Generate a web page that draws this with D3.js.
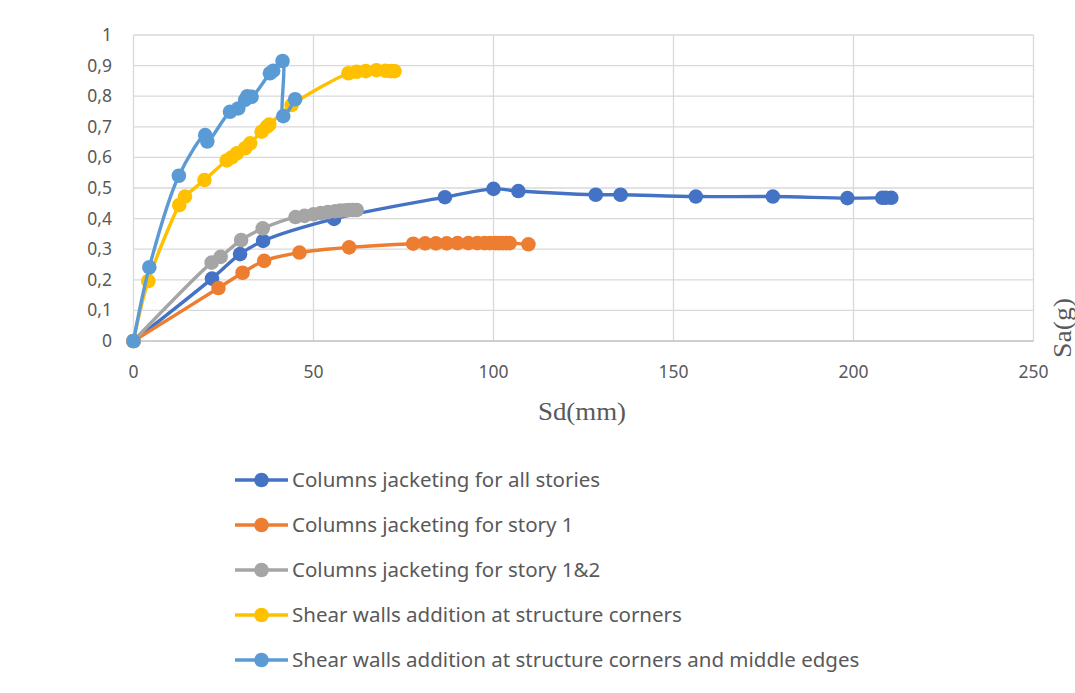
<!DOCTYPE html>
<html><head><meta charset="utf-8">
<script src="https://cdn.jsdelivr.net/npm/d3@7"></script>
<style>body{margin:0;background:#fff;} svg{display:block;}</style>
</head><body>
<svg id="c" width="1075" height="693"></svg>
<script>
const seriesNames = [
  "Columns jacketing for all stories",
  "Columns jacketing for story 1",
  "Columns jacketing for story 1&2",
  "Shear walls addition at structure corners",
  "Shear walls addition at structure corners and middle edges"
];
const seriesColors = ["#4472C4","#ED7D31","#A5A5A5","#FFC000","#5B9BD5"];

const allStoriesSd = [0,21.8,29.6,36,55.7,86.5,100,106.9,128.4,135.3,156.2,177.6,198.3,208,209,210.5];
const allStoriesSa = [0,0.204,0.284,0.327,0.399,0.47,0.497,0.49,0.478,0.478,0.472,0.472,0.467,0.468,0.468,0.468];

const story1Sd = [0,23.6,30.3,36.3,46.1,59.9,77.7,81,84,87,90,93,95.5,97.5,99,100.5,101.5,102.5,103.5,104.5,109.7];
const story1Sa = [0,0.173,0.223,0.262,0.289,0.306,0.318,0.319,0.319,0.319,0.32,0.32,0.32,0.32,0.32,0.32,0.32,0.32,0.32,0.32,0.316];

const story12Sd = [0,21.7,24.2,29.9,35.9,45,47.5,50,52,54,56,57.5,59,60,61,62];
const story12Sa = [0,0.256,0.275,0.33,0.368,0.405,0.409,0.414,0.418,0.421,0.424,0.426,0.427,0.428,0.428,0.428];

const cornersSd = [0,4.1,12.7,14.3,19.7,25.9,27.3,28.7,31,32.4,35.6,37,37.7,43.9,59.7,62,64.5,67.5,70,71.5,72.5];
const cornersSa = [0,0.196,0.444,0.472,0.526,0.59,0.6,0.613,0.63,0.646,0.684,0.7,0.707,0.771,0.875,0.88,0.882,0.885,0.883,0.882,0.882];

const cornersMidSd = [0,4.4,12.6,19.9,20.5,26.8,29.1,31,31.6,32.8,37.9,38.8,41.4,41.6,44.9];
const cornersMidSa = [0,0.241,0.54,0.673,0.652,0.749,0.76,0.788,0.8,0.798,0.875,0.883,0.915,0.735,0.79];

const xTicks = [0,50,100,150,200,250];
const yTicks = [0,0.1,0.2,0.3,0.4,0.5,0.6,0.7,0.8,0.9,1];

const series = [
  [allStoriesSd, allStoriesSa],
  [story1Sd, story1Sa],
  [story12Sd, story12Sa],
  [cornersSd, cornersSa],
  [cornersMidSd, cornersMidSa]
].map((s,i)=>({name:seriesNames[i], color:seriesColors[i], pts:s[0].map((d,j)=>[d,s[1][j]])}));

const svg = d3.select("#c");
const x = d3.scaleLinear().domain([0,250]).range([133.5,1033.5]);
const y = d3.scaleLinear().domain([0,1]).range([341,35]);
const fmt = d => d3.format(".1f")(d).replace(".", ",").replace(/^0,0$/,"0").replace(/^1,0$/,"1");
const tickFont = "'Noto Sans', sans-serif";

// gridlines
svg.append("g").selectAll("line.h").data(yTicks.slice(1)).join("line")
  .attr("x1", x(0)).attr("x2", x(250)).attr("y1", d=>y(d)).attr("y2", d=>y(d))
  .attr("stroke","#d9d9d9").attr("stroke-width",1.3);
svg.append("g").selectAll("line.v").data(xTicks).join("line")
  .attr("x1", d=>x(d)).attr("x2", d=>x(d)).attr("y1", y(0)).attr("y2", y(1))
  .attr("stroke","#d9d9d9").attr("stroke-width",1.3);
// x axis line
svg.append("line").attr("x1",x(0)).attr("x2",x(250)).attr("y1",y(0)).attr("y2",y(0))
  .attr("stroke","#bfbfbf").attr("stroke-width",1.5);

// tick labels
svg.append("g").selectAll("text").data(yTicks).join("text")
  .attr("x", 112).attr("y", d=>y(d)+6).attr("text-anchor","end")
  .attr("font-family", tickFont).attr("font-size",17.5).attr("fill","#595959")
  .text(d=>fmt(d));
svg.append("g").selectAll("text").data(xTicks).join("text")
  .attr("x", d=>x(d)).attr("y", 378).attr("text-anchor","middle")
  .attr("font-family", tickFont).attr("font-size",17.5).attr("fill","#595959")
  .text(d=>d);

// axis titles
svg.append("text").attr("x",582).attr("y",420).attr("text-anchor","middle")
  .attr("font-family","'Liberation Serif', serif").attr("font-size",25).attr("fill","#595959")
  .attr("textLength",88).attr("lengthAdjust","spacingAndGlyphs").text("Sd(mm)");
svg.append("text").attr("transform","translate(1071,328) rotate(-90)").attr("text-anchor","middle")
  .attr("font-family","'Liberation Serif', serif").attr("font-size",25).attr("fill","#595959")
  .attr("textLength",60).attr("lengthAdjust","spacingAndGlyphs").text("Sa(g)");

// series
const line = d3.line().x(d=>x(d[0])).y(d=>y(d[1])).curve(d3.curveCatmullRom.alpha(0.5));
series.forEach(s=>{
  const g = svg.append("g");
  g.append("path").attr("d", line(s.pts)).attr("fill","none").attr("stroke",s.color)
    .attr("stroke-width",3.4).attr("stroke-linejoin","round");
  g.selectAll("circle").data(s.pts).join("circle")
    .attr("cx",d=>x(d[0])).attr("cy",d=>y(d[1])).attr("r",7.3).attr("fill",s.color);
});

// legend
const lg = svg.append("g");
series.forEach((s,i)=>{
  const cy = 480 + i*45;
  lg.append("line").attr("x1",235).attr("x2",288).attr("y1",cy).attr("y2",cy)
    .attr("stroke",s.color).attr("stroke-width",3.4);
  lg.append("circle").attr("cx",261.5).attr("cy",cy).attr("r",7.3).attr("fill",s.color);
  lg.append("text").attr("x",292).attr("y",cy+7).attr("font-family",tickFont)
    .attr("font-size",20.5).attr("fill","#595959").text(s.name);
});
</script>
</body></html>
